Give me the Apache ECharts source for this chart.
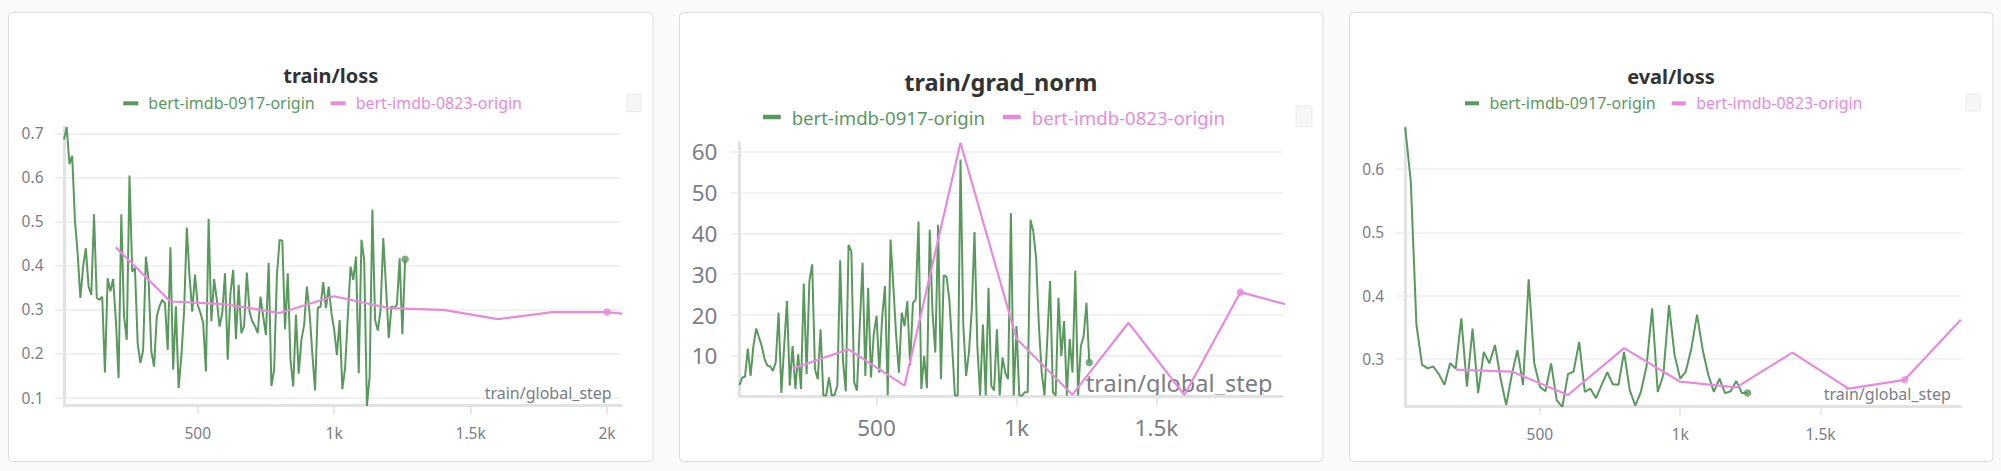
<!DOCTYPE html>
<html><head><meta charset="utf-8">
<script src="https://cdn.jsdelivr.net/npm/echarts@6/dist/echarts.min.js"></script>
<style>html,body{margin:0;padding:0;background:#fafafa}#c{width:2001px;height:471px}</style>
</head><body><div id="c"></div><script>
const RUN_A = 'bert-imdb-0917-origin';
const RUN_B = 'bert-imdb-0823-origin';
const GREEN = '#5a995e';
const PINK = '#e78ade';

// run A (0917): train metrics logged every 10 steps
const trainSteps = [10,20,30,40,50,60,70,80,90,100,110,120,130,140,150,160,170,180,190,200,
210,220,230,240,250,260,270,280,290,300,310,320,330,340,350,360,370,380,390,400,
410,420,430,440,450,460,470,480,490,500,510,520,530,540,550,560,570,580,590,600,
610,620,630,640,650,660,670,680,690,700,710,720,730,740,750,760,770,780,790,800,
810,820,830,840,850,860,870,880,890,900,910,920,930,940,950,960,970,980,990,1000,
1010,1020,1030,1040,1050,1060,1070,1080,1090,1100,1110,1120,1130,1140,1150,1160,1170,1180,1190,1200,
1210,1220,1230,1240,1250,1260];
const lossA = [0.686,0.714,0.630,0.649,0.503,0.428,0.326,0.397,0.439,0.352,
0.333,0.516,0.326,0.322,0.329,0.157,0.371,0.341,0.369,0.276,
0.144,0.516,0.284,0.231,0.604,0.386,0.394,0.223,0.178,0.208,
0.420,0.367,0.205,0.170,0.284,0.307,0.322,0.314,0.208,0.441,
0.163,0.307,0.121,0.193,0.295,0.486,0.375,0.295,0.379,0.310,
0.292,0.269,0.159,0.506,0.273,0.369,0.322,0.261,0.292,0.382,
0.186,0.337,0.390,0.233,0.356,0.246,0.262,0.384,0.295,0.273,
0.262,0.246,0.329,0.284,0.242,0.406,0.126,0.163,0.375,0.458,
0.456,0.255,0.382,0.186,0.125,0.288,0.154,0.231,0.265,0.352,
0.291,0.200,0.116,0.304,0.306,0.362,0.303,0.352,0.292,0.254,
0.197,0.276,0.119,0.167,0.284,0.397,0.367,0.420,0.155,0.458,
0.412,0.081,0.148,0.527,0.276,0.252,0.299,0.462,0.352,0.235,
0.307,0.303,0.311,0.416,0.244,0.414];
const gradA = [2.85,4.7,4.9,11.8,5.1,12.4,16.7,14.5,12.4,9.2,
7.6,7.4,6.3,8.5,20.6,0.9,12.4,23.4,2.7,12.4,
1.9,10.4,1.9,27.7,5.5,28.3,32.4,6.7,4.3,16.5,
0.3,0.3,4.7,0.3,0.4,2.7,33.4,8.8,1.3,37.2,
35.6,3.5,1.5,17.3,32.8,5.1,26.7,4.7,15.3,19.8,
5.9,19.4,27.1,0.3,38.5,27.1,14.9,5.9,20.6,17.3,
23.4,7.6,23.0,23.8,42.9,1.9,10.0,2.1,40.9,20.6,
10.8,42.1,4.3,29.7,29.4,23.8,12.4,0.3,0.3,58.1,
17.3,5.1,10.8,21.0,40.3,12.4,0.3,17.7,0.3,26.7,
2.7,1.5,16.5,0.3,9.6,5.9,4.3,45.0,0.3,17.3,
0.3,0.3,1.1,1.1,43.3,40.5,34.0,17.3,5.9,0.3,
14.1,28.3,1.1,0.3,24.2,10.0,18.5,0.3,14.1,5.9,
30.9,0.3,12.4,14.9,23.0,8.4];
// run A eval every 20 steps
const evalSteps = [20,40,60,80,100,120,140,160,180,200,220,240,260,280,300,320,340,360,380,400,
420,440,460,480,500,520,540,560,580,600,620,640,660,680,700,720,740,760,780,800,
820,840,860,880,900,920,940,960,980,1000,1020,1040,1060,1080,1100,1120,1140,1160,1180,1200,
1220,1240];
const evalA = [0.666,0.580,0.354,0.291,0.285,0.288,0.276,0.259,0.293,0.285,
0.364,0.256,0.348,0.246,0.311,0.293,0.322,0.269,0.227,0.275,
0.314,0.259,0.426,0.293,0.256,0.249,0.293,0.235,0.224,0.276,
0.280,0.327,0.248,0.253,0.238,0.259,0.279,0.260,0.259,0.311,
0.251,0.226,0.248,0.288,0.380,0.248,0.275,0.385,0.306,0.269,
0.280,0.317,0.370,0.315,0.275,0.248,0.269,0.246,0.249,0.265,
0.246,0.246];

// run B (0823)
const lossStepsB = [200,400,600,800,1000,1200,1400,1600,1800,2000,2200];
const lossB = [0.441,0.318,0.312,0.292,0.330,0.303,0.299,0.278,0.294,0.294,0.282];
const gradStepsB = [200,400,600,800,1000,1200,1400,1600,1800,2000];
const gradB = [6.9,11.6,2.7,62.2,14.2,0.5,18.1,0.4,25.6,21.9];
const evalStepsB = [200,400,600,800,1000,1200,1400,1600,1800,2000];
const evalB = [0.283,0.280,0.243,0.317,0.264,0.255,0.310,0.253,0.267,0.362];

// tick values and labels
const lossXTicks = [500,1000,1500,2000];
const lossXLabels = ['500','1k','1.5k','2k'];
const gradXTicks = [500,1000,1500];
const gradXLabels = ['500','1k','1.5k'];
const evalXTicks = [500,1000,1500];
const evalXLabels = ['500','1k','1.5k'];
const lossYTicks = [0.1,0.2,0.3,0.4,0.5,0.6,0.7];
const lossYLabels = ['0.1','0.2','0.3','0.4','0.5','0.6','0.7'];
const gradYTicks = [10,20,30,40,50,60];
const gradYLabels = ['10','20','30','40','50','60'];
const evalYTicks = [0.3,0.4,0.5,0.6];
const evalYLabels = ['0.3','0.4','0.5','0.6'];

const titles = ['train/loss','train/grad_norm','eval/loss'];
const xName = 'train/global_step';

const FONT = 'Noto Sans';
const TICK_COLOR = '#7b7e86';

const panels = [
  {title:titles[0], tx:330.8, ty:75, tsize:20, lgLeft:123.3, lgTop:95.3, lgSize:16, iconW:15, iconH:4, lgGap:16, lgPad:5,
   grid:{left:64, top:126.7, width:556.7, height:278.3}, xMin:10, xMax:2050, yMin:0.083, yMax:0.715,
   tickSize:15.5, mX:20, mY:20.5, nameSize:16, nameGap:-9, namePad:4, sq:[627,94.3,14,17.4], card:[8.5,12.5,644.5,449],
   xT:lossXTicks, xL:lossXLabels, yT:lossYTicks, yL:lossYLabels,
   a:[trainSteps,lossA], b:[lossStepsB,lossB], dotA:125, dotB:9},
  {title:titles[1], tx:1000.8, ty:81.7, tsize:23.5, lgLeft:763, lgTop:107.5, lgSize:18.6, iconW:17.7, iconH:4.5, lgGap:18, lgPad:6,
   grid:{left:739.4, top:142.3, width:543, height:254.4}, xMin:10, xMax:1950, yMin:0, yMax:62.3,
   tickSize:22.5, mX:19, mY:22, nameSize:23.5, nameGap:-10, namePad:2, sq:[1296,106,16,20.7], card:[679.5,12.5,643.5,449],
   xT:gradXTicks, xL:gradXLabels, yT:gradYTicks, yL:gradYLabels,
   a:[trainSteps,gradA], b:[gradStepsB,gradB], dotA:125, dotB:8},
  {title:titles[2], tx:1671, ty:76, tsize:20, lgLeft:1465, lgTop:95.3, lgSize:16, iconW:14, iconH:4, lgGap:16, lgPad:5.4,
   grid:{left:1405.2, top:126.7, width:555.6, height:279.3}, xMin:20, xMax:2000, yMin:0.2256, yMax:0.667,
   tickSize:15.5, mX:20, mY:21, nameSize:16, nameGap:-10, namePad:4, sq:[1966,94,14.6,17], card:[1349.5,12.5,643.5,449],
   xT:evalXTicks, xL:evalXLabels, yT:evalYTicks, yL:evalYLabels,
   a:[evalSteps,evalA], b:[evalStepsB,evalB], dotA:61, dotB:8}
];

const option = {
  backgroundColor:'#fafafa',
  animation:false,
  grid:[], xAxis:[], yAxis:[], legend:[], series:[], graphic:[]
};

const pairs = (xs, ys) => xs.map((x,i)=>[x, ys[i]]);

panels.forEach((p, i) => {
  const [cx, cy, cw, ch] = p.card;
  option.graphic.push({type:'rect', z:-10, shape:{x:cx, y:cy, width:cw, height:ch, r:4},
    style:{fill:'#ffffff', stroke:'#dcdcdc', lineWidth:1}});
  option.graphic.push({type:'rect', z:-5, shape:{x:p.sq[0], y:p.sq[1], width:p.sq[2], height:p.sq[3]},
    style:{fill:'#f6f6f6', stroke:'#ececec', lineWidth:1}});
  option.graphic.push({type:'text', z:5, x:p.tx, y:p.ty,
    style:{text:p.title, fill:'#333333', font:'bold ' + p.tsize + 'px "' + FONT + '"', textAlign:'center', textVerticalAlign:'middle'}});

  option.grid.push(Object.assign({containLabel:false, outerBoundsMode:'none'}, p.grid));
  option.xAxis.push({
    type:'value', gridIndex:i, min:p.xMin, max:p.xMax,
    axisLine:{show:true, onZero:false, lineStyle:{color:'#e2e2e2', width:3}},
    axisTick:{show:true, length:9, customValues:p.xT, lineStyle:{color:'#e2e2e2', width:1.5}},
    axisLabel:{customValues:p.xT, margin:p.mX, color:TICK_COLOR, fontFamily:FONT, fontSize:p.tickSize,
      formatter:(v)=>{const k=p.xT.indexOf(v); return k>=0 ? p.xL[k] : '';}},
    splitLine:{show:false},
    name:xName, nameLocation:'end', nameGap:p.nameGap,
    nameTextStyle:{align:'right', verticalAlign:'bottom', color:TICK_COLOR, fontFamily:FONT, fontSize:p.nameSize, padding:[0,0,p.namePad,0]}
  });
  option.yAxis.push({
    type:'value', gridIndex:i, min:p.yMin, max:p.yMax,
    axisLine:{show:true, onZero:false, lineStyle:{color:'#e2e2e2', width:3}},
    axisTick:{show:true, length:9, customValues:p.yT, lineStyle:{color:'#ebebeb', width:1.5}},
    axisLabel:{customValues:p.yT, margin:p.mY, color:TICK_COLOR, fontFamily:FONT, fontSize:p.tickSize,
      formatter:(v)=>{let k=-1; p.yT.forEach((t,j)=>{if(Math.abs(t-v)<1e-9) k=j;}); return k>=0 ? p.yL[k] : '';}},
    splitLine:{show:true, lineStyle:{color:'#ececec', width:1.5}}
  });
  option.legend.push({
    left:p.lgLeft, top:p.lgTop, padding:0, itemGap:p.lgGap, itemWidth:p.iconW, itemHeight:p.iconH,
    icon:'rect', selectedMode:false,
    textStyle:{fontFamily:FONT, fontSize:p.lgSize, padding:[0,0,0,p.lgPad]},
    data:[{name:RUN_A, textStyle:{color:GREEN}}, {name:RUN_B, textStyle:{color:PINK}}]
  });
  option.series.push({
    type:'line', name:RUN_A, xAxisIndex:i, yAxisIndex:i, showSymbol:false, symbol:'none',
    data:pairs(p.a[0], p.a[1]), color:GREEN, lineStyle:{color:GREEN, width:2}, z:2
  });
  option.series.push({
    type:'line', name:RUN_B, xAxisIndex:i, yAxisIndex:i, showSymbol:false, symbol:'none',
    data:pairs(p.b[0], p.b[1]), color:PINK, lineStyle:{color:PINK, width:2.2}, z:3
  });
  option.series.push({
    type:'scatter', name:'dotA' + i, xAxisIndex:i, yAxisIndex:i, symbolSize:7.5,
    data:[[p.a[0][p.dotA], p.a[1][p.dotA]]], itemStyle:{color:GREEN}, z:4
  });
  option.series.push({
    type:'scatter', name:'dotB' + i, xAxisIndex:i, yAxisIndex:i, symbolSize:7.5,
    data:[[p.b[0][p.dotB], p.b[1][p.dotB]]], itemStyle:{color:PINK}, z:4
  });
});

const chart = echarts.init(document.getElementById('c'), null, {renderer:'svg', width:2001, height:471});
chart.setOption(option);
</script></body></html>
